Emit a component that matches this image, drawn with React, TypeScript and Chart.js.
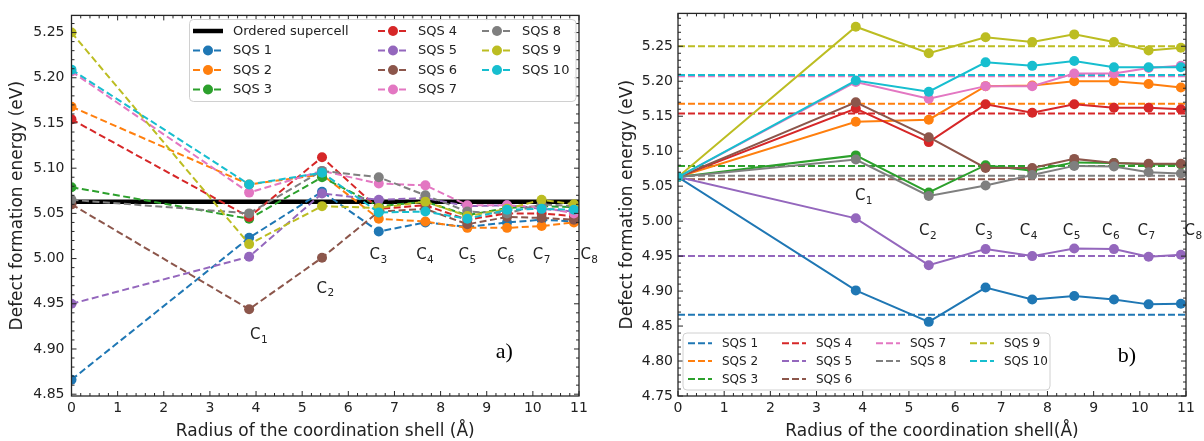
import React, { useEffect, useRef } from "react";
import { Chart, registerables } from "chart.js";

Chart.register(...registerables);

// ---------------- data ----------------
const COLORS = ["#1f77b4", "#ff7f0e", "#2ca02c", "#d62728", "#9467bd", "#8c564b", "#e377c2", "#7f7f7f", "#bcbd22", "#17becf"];
const SQS_LABELS = ["SQS 1", "SQS 2", "SQS 3", "SQS 4", "SQS 5", "SQS 6", "SQS 7", "SQS 8", "SQS 9", "SQS 10"];
const SHELL_RADII = [3.85, 5.43, 6.66, 7.67, 8.58, 9.44, 10.19, 10.89];
const SHELL_NAMES = ["1", "2", "3", "4", "5", "6", "7", "8"];
const ORDERED_ENERGY = 5.063;
// defect formation energy of each SQS cell (value at r = 0)
const SQS_REFERENCE = [4.866, 5.168, 5.079, 5.154, 4.95, 5.06, 5.207, 5.065, 5.25, 5.209];

// panel a) energies at shells C1..C8
const A_SQS1 = [5.023, 5.074, 5.03, 5.04, 5.035, 5.04, 5.043, 5.041];
const A_SQS2 = [5.082, 5.093, 5.044, 5.041, 5.034, 5.034, 5.036, 5.04];
const A_SQS3 = [5.044, 5.09, 5.058, 5.063, 5.048, 5.056, 5.058, 5.057];
const A_SQS4 = [5.046, 5.112, 5.055, 5.059, 5.043, 5.05, 5.05, 5.047];
const A_SQS5 = [5.002, 5.072, 5.065, 5.067, 5.058, 5.059, 5.055, 5.052];
const A_SQS6 = [4.944, 5.001, 5.052, 5.055, 5.038, 5.046, 5.045, 5.043];
const A_SQS7 = [5.073, 5.097, 5.083, 5.081, 5.059, 5.059, 5.057, 5.05];
const A_SQS8 = [5.05, 5.097, 5.09, 5.07, 5.052, 5.05, 5.06, 5.058];
const A_SQS9 = [5.016, 5.058, 5.056, 5.063, 5.047, 5.055, 5.065, 5.06];
const A_SQS10 = [5.082, 5.095, 5.051, 5.052, 5.044, 5.054, 5.055, 5.054];

// panel b) energies at shells C1..C8 (starting from the ordered supercell at r = 0)
const B_SQS1 = [4.901, 4.856, 4.905, 4.888, 4.893, 4.888, 4.881, 4.882];
const B_SQS2 = [5.142, 5.145, 5.193, 5.194, 5.2, 5.2, 5.196, 5.191];
const B_SQS3 = [5.094, 5.041, 5.08, 5.072, 5.084, 5.083, 5.081, 5.081];
const B_SQS4 = [5.161, 5.113, 5.167, 5.155, 5.167, 5.162, 5.162, 5.16];
const B_SQS5 = [5.004, 4.937, 4.96, 4.95, 4.961, 4.96, 4.949, 4.952];
const B_SQS6 = [5.17, 5.12, 5.076, 5.076, 5.089, 5.083, 5.082, 5.082];
const B_SQS7 = [5.199, 5.175, 5.193, 5.193, 5.211, 5.211, 5.219, 5.222];
const B_SQS8 = [5.088, 5.036, 5.051, 5.066, 5.079, 5.078, 5.07, 5.068];
const B_SQS9 = [5.278, 5.24, 5.263, 5.256, 5.267, 5.256, 5.244, 5.248];
const B_SQS10 = [5.201, 5.185, 5.227, 5.222, 5.229, 5.22, 5.22, 5.22];

const X_TICKS = [0, 1, 2, 3, 4, 5, 6, 7, 8, 9, 10, 11];
const A_Y_TICKS = [4.85, 4.9, 4.95, 5.0, 5.05, 5.1, 5.15, 5.2, 5.25];
const B_Y_TICKS = [4.75, 4.8, 4.85, 4.9, 4.95, 5.0, 5.05, 5.1, 5.15, 5.2, 5.25];

const A_SERIES = [A_SQS1, A_SQS2, A_SQS3, A_SQS4, A_SQS5, A_SQS6, A_SQS7, A_SQS8, A_SQS9, A_SQS10];
const B_SERIES = [B_SQS1, B_SQS2, B_SQS3, B_SQS4, B_SQS5, B_SQS6, B_SQS7, B_SQS8, B_SQS9, B_SQS10];

// shell label anchors (data coordinates, left/baseline)
const A_LABEL_X = [3.87, 5.31, 6.46, 7.47, 8.39, 9.22, 10.0, 11.03];
const A_LABEL_Y = [4.911, 4.962, 4.999, 4.999, 4.999, 4.999, 4.999, 4.999];
const B_LABEL_X = [3.83, 5.22, 6.43, 7.4, 8.33, 9.18, 9.95, 10.97];
const B_LABEL_Y = [5.03, 4.98, 4.98, 4.98, 4.98, 4.98, 4.98, 4.98];

const FONT = "'DejaVu Sans', 'Noto Sans', sans-serif";

type LegendItem = { label: string; color: string; dash: number[]; width: number; marker: boolean };
type Deco = {
  yTicks: number[];
  yMinor: number;
  xMinor: number;
  labelX: number[];
  labelY: number[];
  tag: { text: string; x: number; y: number };
  yTitle: { text: string; x: number };
  xTitle: { text: string; y: number };
  legend: {
    box: [number, number, number, number];
    fontSize: number;
    items: LegendItem[];
    columns: number[][];
    colX: number[];
    rowY: number[];
    lineLen: number;
    textGap: number;
  };
};

function decoPlugin(d: Deco) {
  return {
    id: "deco",
    afterDraw(chart: any) {
      const ctx: CanvasRenderingContext2D = chart.ctx;
      const a = chart.chartArea;
      const xs = chart.scales.x;
      const ys = chart.scales.y;
      const seg = (x1: number, y1: number, x2: number, y2: number) => {
        ctx.beginPath();
        ctx.moveTo(x1, y1);
        ctx.lineTo(x2, y2);
        ctx.stroke();
      };
      ctx.save();
      // frame
      ctx.strokeStyle = "#262626";
      ctx.lineWidth = 1.3;
      ctx.strokeRect(a.left, a.top, a.right - a.left, a.bottom - a.top);
      // inward ticks on all sides
      ctx.lineWidth = 1;
      const near = (v: number, arr: number[]) => arr.some((m) => Math.abs(m - v) < 1e-6);
      for (let k = Math.ceil(ys.min / d.yMinor - 1e-6); k * d.yMinor <= ys.max + 1e-9; k++) {
        const v = k * d.yMinor;
        const py = ys.getPixelForValue(v);
        const len = near(v, d.yTicks) ? 5 : 3;
        seg(a.left, py, a.left + len, py);
        seg(a.right, py, a.right - len, py);
      }
      for (let k = Math.ceil(xs.min / d.xMinor - 1e-6); k * d.xMinor <= xs.max + 1e-9; k++) {
        const v = k * d.xMinor;
        const px = xs.getPixelForValue(v);
        const len = near(v, X_TICKS) ? 5 : 3;
        seg(px, a.bottom, px, a.bottom - len);
        seg(px, a.top, px, a.top + len);
      }
      // shell labels C1..C8
      ctx.fillStyle = "#222";
      ctx.textAlign = "left";
      ctx.textBaseline = "alphabetic";
      d.labelX.forEach((lx, i) => {
        const px = xs.getPixelForValue(lx);
        const py = ys.getPixelForValue(d.labelY[i]);
        ctx.font = `15px ${FONT}`;
        ctx.fillText("C", px, py);
        const w = ctx.measureText("C").width;
        ctx.font = `10.5px ${FONT}`;
        ctx.fillText(SHELL_NAMES[i], px + w + 0.5, py + 3.5);
      });
      // panel tag
      ctx.font = "22px 'Liberation Serif', 'DejaVu Serif', serif";
      ctx.textAlign = "center";
      ctx.textBaseline = "middle";
      ctx.fillStyle = "#000";
      ctx.fillText(d.tag.text, xs.getPixelForValue(d.tag.x), ys.getPixelForValue(d.tag.y));
      // legend
      const L = d.legend;
      const [bx0, by0, bx1, by1] = L.box;
      ctx.beginPath();
      const r = 4;
      ctx.moveTo(bx0 + r, by0);
      ctx.arcTo(bx1, by0, bx1, by1, r);
      ctx.arcTo(bx1, by1, bx0, by1, r);
      ctx.arcTo(bx0, by1, bx0, by0, r);
      ctx.arcTo(bx0, by0, bx1, by0, r);
      ctx.closePath();
      ctx.fillStyle = "rgba(255,255,255,0.85)";
      ctx.fill();
      ctx.strokeStyle = "#d0d0d0";
      ctx.lineWidth = 1;
      ctx.stroke();
      L.columns.forEach((col, ci) => {
        col.forEach((itemIdx, ri) => {
          const it = L.items[itemIdx];
          const x0 = L.colX[ci];
          const y = L.rowY[ri];
          ctx.strokeStyle = it.color;
          ctx.lineWidth = it.width;
          ctx.setLineDash(it.dash);
          seg(x0, y, x0 + L.lineLen, y);
          ctx.setLineDash([]);
          if (it.marker) {
            ctx.fillStyle = it.color;
            ctx.beginPath();
            ctx.arc(x0 + L.lineLen / 2, y, 5, 0, Math.PI * 2);
            ctx.fill();
          }
          ctx.fillStyle = "#222";
          ctx.font = `${L.fontSize}px ${FONT}`;
          ctx.textAlign = "left";
          ctx.textBaseline = "middle";
          ctx.fillText(it.label, x0 + L.lineLen + L.textGap, y + 0.5);
        });
      });
      // axis titles
      ctx.fillStyle = "#222";
      ctx.font = `17px ${FONT}`;
      ctx.textAlign = "center";
      ctx.textBaseline = "alphabetic";
      ctx.fillText(d.xTitle.text, (a.left + a.right) / 2, d.xTitle.y);
      ctx.save();
      ctx.translate(d.yTitle.x, (a.top + a.bottom) / 2);
      ctx.rotate(-Math.PI / 2);
      ctx.textBaseline = "middle";
      ctx.fillText(d.yTitle.text, 0, 0);
      ctx.restore();
      ctx.restore();
    },
  };
}

function baseOptions(yMin: number, yMax: number, yTicks: number[], yWidth: number, padRight: number, tickPad: number) {
  return {
    responsive: false,
    animation: false as const,
    devicePixelRatio: 1,
    events: [] as any[],
    layout: { padding: { left: 0, right: padRight, top: 13, bottom: 0 } },
    plugins: { legend: { display: false }, tooltip: { enabled: false } },
    scales: {
      x: {
        type: "linear" as const,
        min: 0,
        max: 11,
        afterBuildTicks: (s: any) => {
          s.ticks = X_TICKS.map((v) => ({ value: v }));
        },
        afterFit: (s: any) => {
          s.height = 45;
        },
        grid: { display: false, drawTicks: false },
        border: { display: false },
        ticks: {
          autoSkip: false,
          maxRotation: 0,
          padding: 4,
          color: "#222",
          font: { family: FONT, size: 14 },
          callback: (v: any) => String(v),
        },
      },
      y: {
        type: "linear" as const,
        min: yMin,
        max: yMax,
        afterBuildTicks: (s: any) => {
          s.ticks = yTicks.map((v) => ({ value: v }));
        },
        afterFit: (s: any) => {
          s.width = yWidth;
        },
        grid: { display: false, drawTicks: false },
        border: { display: false },
        ticks: {
          autoSkip: false,
          padding: tickPad,
          color: "#222",
          font: { family: FONT, size: 14 },
          callback: (v: any) => Number(v).toFixed(2),
        },
      },
    },
  };
}

function buildPanelA(canvas: HTMLCanvasElement) {
  const datasets: any[] = [
    {
      label: "Ordered supercell",
      data: [{ x: 0, y: ORDERED_ENERGY }, { x: 11, y: ORDERED_ENERGY }],
      borderColor: "#000",
      borderWidth: 4.5,
      pointRadius: 0,
      order: 100,
      clip: 0,
    },
  ];
  A_SERIES.forEach((vals, i) => {
    const xsVals = [0, ...SHELL_RADII];
    const ysVals = [SQS_REFERENCE[i], ...vals];
    datasets.push({
      label: SQS_LABELS[i],
      data: xsVals.map((x, j) => ({ x, y: ysVals[j] })),
      borderColor: COLORS[i],
      backgroundColor: COLORS[i],
      pointBackgroundColor: COLORS[i],
      pointBorderWidth: 0,
      pointRadius: 5,
      borderWidth: 2,
      borderDash: [7, 3.5],
      order: -i,
      clip: 0,
    });
  });
  const items: LegendItem[] = [
    { label: "Ordered supercell", color: "#000", dash: [], width: 4.5, marker: false },
    ...SQS_LABELS.map((l, i) => ({ label: l, color: COLORS[i], dash: [7, 3.5], width: 2, marker: true })),
  ];
  const deco: Deco = {
    yTicks: A_Y_TICKS,
    yMinor: 0.01,
    xMinor: 0.2,
    labelX: A_LABEL_X,
    labelY: A_LABEL_Y,
    tag: { text: "a)", x: 9.38, y: 4.896 },
    yTitle: { text: "Defect formation energy (eV)", x: 18 },
    xTitle: { text: "Radius of the coordination shell (Å)", y: 435.5 },
    legend: {
      box: [189.5, 19.5, 576, 101.5],
      fontSize: 13,
      items,
      columns: [
        [0, 1, 2, 3],
        [4, 5, 6, 7],
        [8, 9, 10],
      ],
      colX: [193, 378, 482],
      rowY: [31, 50.5, 70, 89.5],
      lineLen: 30,
      textGap: 10,
    },
  };
  return new Chart(canvas, {
    type: "line",
    data: { datasets },
    options: baseOptions(4.848, 5.269, A_Y_TICKS, 71.5, 21, 7) as any,
    plugins: [decoPlugin(deco)],
  });
}

function buildPanelB(canvas: HTMLCanvasElement) {
  const datasets: any[] = [];
  SQS_REFERENCE.forEach((v, i) => {
    datasets.push({
      label: SQS_LABELS[i],
      data: [{ x: 0, y: v }, { x: 11, y: v }],
      borderColor: COLORS[i],
      borderWidth: 2,
      borderDash: [7, 3],
      pointRadius: 0,
      order: 50 - i,
      clip: 0,
    });
  });
  B_SERIES.forEach((vals, i) => {
    const xsVals = [0, ...SHELL_RADII];
    const ysVals = [ORDERED_ENERGY, ...vals];
    datasets.push({
      label: SQS_LABELS[i] + " shells",
      data: xsVals.map((x, j) => ({ x, y: ysVals[j] })),
      borderColor: COLORS[i],
      backgroundColor: COLORS[i],
      pointBackgroundColor: COLORS[i],
      pointBorderWidth: 0,
      pointRadius: 5,
      borderWidth: 2,
      order: -i,
      clip: 0,
    });
  });
  const items: LegendItem[] = SQS_LABELS.map((l, i) => ({ label: l, color: COLORS[i], dash: [7, 3], width: 2, marker: false }));
  const deco: Deco = {
    yTicks: B_Y_TICKS,
    yMinor: 0.01,
    xMinor: 0.2,
    labelX: B_LABEL_X,
    labelY: B_LABEL_Y,
    tag: { text: "b)", x: 9.72, y: 4.807 },
    yTitle: { text: "Defect formation energy (eV)", x: 28 },
    xTitle: { text: "Radius of the coordination shell(Å)", y: 435.5 },
    legend: {
      box: [83, 333, 450, 390],
      fontSize: 12,
      items,
      columns: [
        [0, 1, 2],
        [3, 4, 5],
        [6, 7],
        [8, 9],
      ],
      colX: [88, 182, 276, 370],
      rowY: [343.3, 361, 379],
      lineLen: 24,
      textGap: 10,
    },
  };
  return new Chart(canvas, {
    type: "line",
    data: { datasets },
    options: baseOptions(4.75, 5.297, B_Y_TICKS, 78, 18, 5) as any,
    plugins: [decoPlugin(deco)],
  });
}

export default function App() {
  const refA = useRef<HTMLCanvasElement | null>(null);
  const refB = useRef<HTMLCanvasElement | null>(null);
  useEffect(() => {
    const ca = refA.current ? buildPanelA(refA.current) : null;
    const cb = refB.current ? buildPanelB(refB.current) : null;
    return () => {
      ca?.destroy();
      cb?.destroy();
    };
  }, []);
  return (
    <div style={{ position: "fixed", left: 0, top: 0, width: 1204, height: 441, background: "#fff" }}>
      <canvas ref={refA} width={600} height={441} style={{ position: "absolute", left: 0, top: 0, display: "block" }} />
      <canvas ref={refB} width={604} height={441} style={{ position: "absolute", left: 600, top: 0, display: "block" }} />
    </div>
  );
}
